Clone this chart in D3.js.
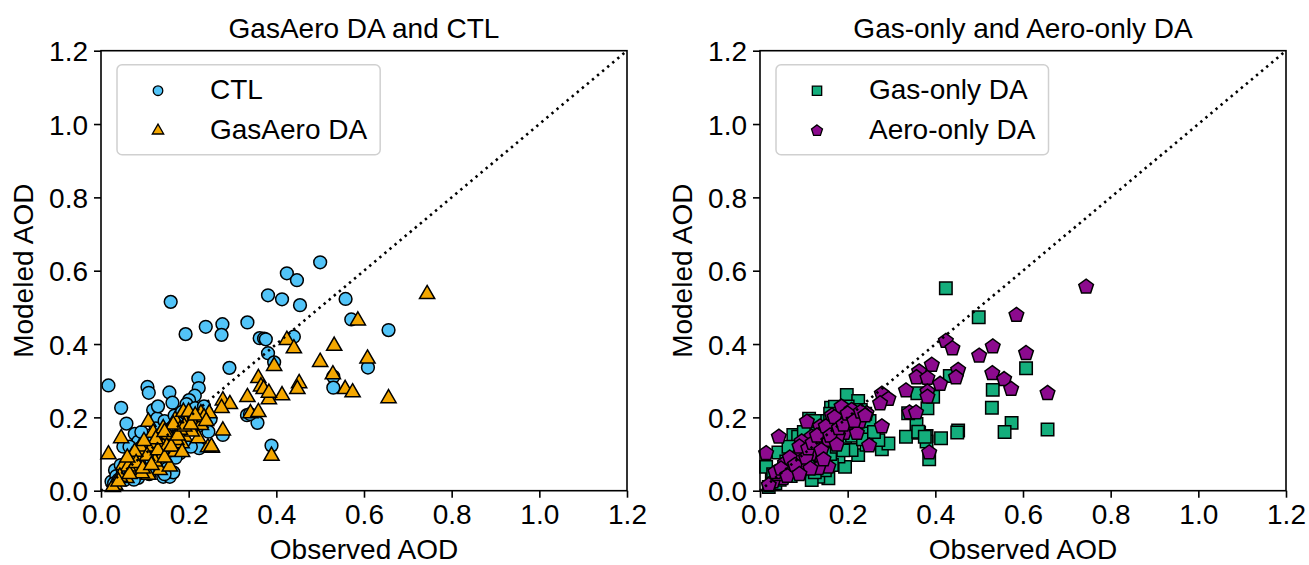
<!DOCTYPE html>
<html>
<head>
<meta charset="utf-8">
<script src="https://cdn.jsdelivr.net/npm/d3@7"></script>
<style>
  body { margin: 0; background: #fff; }
  text { font-family: "Liberation Sans", Arial, sans-serif; fill: #000; }
</style>
</head>
<body>
<div id="chart"></div>
<script>

// tick labels shared by both panels
var ticks = [0, 0.2, 0.4, 0.6, 0.8, 1.0, 1.2];

// [observed, modeled] pairs
var ctl = [
  [0.500,0.623],[0.424,0.593],[0.447,0.574],[0.381,0.533],[0.413,0.522],[0.454,0.506],[0.558,0.523],
  [0.193,0.427],[0.239,0.447],[0.277,0.454],[0.275,0.425],[0.334,0.459],[0.362,0.416],[0.372,0.415],
  [0.376,0.413],[0.440,0.420],[0.571,0.467],[0.656,0.438],[0.381,0.375],[0.395,0.350],[0.293,0.335],
  [0.222,0.306],[0.223,0.280],[0.214,0.259],[0.530,0.311],[0.530,0.281],[0.609,0.336],[0.389,0.123],
  [0.357,0.185],[0.333,0.206],[0.278,0.152],[0.159,0.515],[0.017,0.287],[0.046,0.226],[0.106,0.283],
  [0.109,0.267],[0.058,0.183],[0.077,0.155],[0.156,0.268],[0.163,0.240],[0.119,0.220],[0.128,0.197],
  [0.201,0.247],[0.195,0.236],[0.099,0.138],[0.051,0.120],[0.032,0.056],[0.024,0.025],[0.142,0.038],
  [0.157,0.038],[0.180,0.102],[0.245,0.161],[0.224,0.116],[0.340,0.209],[0.085,0.134],
  [0.035,0.040],[0.045,0.070],[0.060,0.045],[0.068,0.095],[0.080,0.065],[0.088,0.115],[0.095,0.080],
  [0.105,0.150],[0.112,0.105],[0.125,0.170],[0.135,0.125],[0.145,0.190],[0.150,0.145],[0.168,0.205],
  [0.175,0.160],[0.185,0.215],[0.205,0.185],[0.215,0.225],[0.230,0.200],[0.240,0.215],[0.250,0.195],
  [0.120,0.060],[0.085,0.035],[0.055,0.030],[0.138,0.075],[0.170,0.090],[0.100,0.110],[0.130,0.230],
  [0.092,0.160],[0.065,0.120],[0.205,0.120],[0.190,0.135],[0.160,0.110],[0.110,0.045],[0.075,0.030],
  [0.030,0.020],[0.040,0.030],[0.050,0.050],[0.070,0.060],[0.090,0.070],[0.100,0.090],[0.115,0.130],
  [0.130,0.140],[0.140,0.100],[0.155,0.130],[0.160,0.170],[0.175,0.185],[0.180,0.140],[0.195,0.170],
  [0.210,0.200],[0.220,0.175],[0.235,0.230],[0.150,0.060],[0.125,0.085],[0.165,0.050],[0.145,0.045]
];

var gasAero = [
  [0.744,0.536],[0.586,0.464],[0.424,0.411],[0.440,0.388],[0.532,0.395],[0.500,0.351],[0.608,0.360],
  [0.395,0.340],[0.359,0.307],[0.365,0.284],[0.371,0.277],[0.452,0.293],[0.448,0.277],[0.529,0.317],
  [0.557,0.277],[0.574,0.268],[0.656,0.252],[0.413,0.260],[0.383,0.249],[0.383,0.267],[0.334,0.255],
  [0.278,0.246],[0.294,0.236],[0.275,0.225],[0.341,0.211],[0.359,0.214],[0.389,0.095],[0.278,0.164],
  [0.253,0.117],[0.244,0.118],[0.247,0.211],[0.227,0.185],[0.017,0.099],[0.046,0.143],[0.108,0.188],
  [0.119,0.158],[0.142,0.170],[0.169,0.193],[0.188,0.215],[0.207,0.197],[0.228,0.211],[0.214,0.179],
  [0.228,0.179],[0.161,0.138],[0.191,0.147],[0.222,0.143],[0.252,0.120],[0.074,0.056],[0.058,0.034],
  [0.032,0.016],[0.085,0.088],[0.100,0.111],[0.134,0.056],[0.157,0.066],[0.138,0.093],[0.169,0.106],
  [0.123,0.079],[0.070,0.093],[0.051,0.070],[0.108,0.043],[0.138,0.129],[0.184,0.129],[0.207,0.161],
  [0.195,0.188],[0.180,0.166],[0.153,0.152],[0.172,0.138],[0.117,0.120],[0.089,0.120],[0.077,0.106],
  [0.062,0.066],[0.093,0.047],[0.043,0.038],[0.027,0.010],[0.200,0.215],[0.235,0.200],[0.150,0.120],
  [0.040,0.025],[0.065,0.045],[0.080,0.075],[0.095,0.060],[0.105,0.095],[0.115,0.070],[0.130,0.110],
  [0.145,0.090],[0.160,0.120],[0.175,0.150],[0.190,0.175],[0.205,0.180],[0.215,0.205],[0.240,0.190],
  [0.125,0.140],[0.165,0.180],[0.098,0.135],[0.145,0.160],[0.185,0.105],[0.060,0.090]
];

var gasOnly = [
  [0.424,0.552],[0.499,0.473],[0.607,0.334],[0.531,0.275],[0.529,0.226],[0.574,0.185],[0.558,0.160],
  [0.656,0.167],[0.433,0.313],[0.452,0.164],[0.450,0.159],[0.413,0.143],[0.382,0.225],[0.359,0.266],
  [0.395,0.256],[0.333,0.147],[0.363,0.158],[0.380,0.149],[0.380,0.134],[0.357,0.182],[0.338,0.211],
  [0.198,0.261],[0.112,0.196],[0.076,0.152],[0.042,0.104],[0.014,0.065],[0.386,0.086],[0.278,0.113],
  [0.293,0.129],[0.224,0.097],[0.194,0.065],[0.156,0.034],[0.361,0.161],[0.376,0.147],
  [0.224,0.245],[0.162,0.226],[0.186,0.202],[0.209,0.211],[0.247,0.170],[0.270,0.138],[0.243,0.125],
  [0.133,0.038],[0.179,0.093],[0.156,0.111],[0.118,0.175],[0.087,0.147],[0.027,0.029],[0.065,0.047],
  [0.118,0.029],[0.148,0.056],[0.137,0.075],[0.171,0.229],[0.179,0.175],[0.217,0.166],[0.194,0.138],
  [0.103,0.093],[0.080,0.065],[0.049,0.047],[0.164,0.070],[0.209,0.111],[0.100,0.120],[0.130,0.100],
  [0.060,0.080],[0.035,0.020],[0.220,0.200],
  [0.020,0.010],[0.030,0.045],[0.045,0.030],[0.055,0.060],[0.070,0.040],[0.075,0.085],[0.090,0.055],
  [0.095,0.100],[0.110,0.070],[0.115,0.130],[0.125,0.050],[0.140,0.090],[0.150,0.140],[0.160,0.100],
  [0.170,0.160],[0.175,0.120],[0.185,0.200],[0.190,0.110],[0.200,0.180],[0.210,0.150],[0.230,0.220],
  [0.235,0.140],[0.250,0.190],[0.260,0.160],[0.120,0.160],[0.140,0.190],[0.100,0.160],[0.160,0.210],
  [0.200,0.230],[0.240,0.210],[0.065,0.120],[0.125,0.190]
];

var aeroOnly = [
  [0.744,0.556],[0.585,0.479],[0.607,0.375],[0.656,0.266],[0.531,0.393],[0.500,0.368],[0.530,0.320],
  [0.557,0.304],[0.573,0.277],[0.424,0.408],[0.439,0.388],[0.452,0.329],[0.447,0.309],[0.392,0.343],
  [0.363,0.325],[0.357,0.309],[0.382,0.307],[0.411,0.291],[0.333,0.273],[0.382,0.270],[0.382,0.256],
  [0.341,0.213],[0.356,0.213],[0.278,0.264],[0.293,0.250],[0.274,0.238],[0.278,0.175],[0.243,0.211],
  [0.043,0.147],[0.014,0.102],[0.107,0.188],[0.386,0.104],[0.249,0.123],
  [0.164,0.205],[0.194,0.202],[0.217,0.209],[0.227,0.188],[0.192,0.157],[0.156,0.138],[0.125,0.125],
  [0.099,0.111],[0.133,0.097],[0.156,0.065],[0.099,0.075],[0.076,0.084],[0.072,0.056],[0.053,0.034],
  [0.030,0.025],[0.133,0.061],[0.221,0.157],[0.137,0.175],[0.167,0.179],[0.186,0.229],[0.209,0.220],
  [0.118,0.147],[0.095,0.134],[0.057,0.075],[0.178,0.150],[0.145,0.160],[0.040,0.045],[0.200,0.185],
  [0.115,0.100],[0.085,0.095],
  [0.020,0.015],[0.035,0.050],[0.048,0.060],[0.062,0.040],[0.068,0.090],[0.080,0.070],[0.090,0.120],
  [0.105,0.090],[0.110,0.115],[0.120,0.130],[0.130,0.150],[0.140,0.110],[0.150,0.175],[0.160,0.150],
  [0.170,0.200],[0.180,0.170],[0.190,0.180],[0.200,0.210],[0.215,0.190],[0.230,0.215],[0.240,0.205],
  [0.175,0.125],[0.145,0.085],[0.115,0.060],[0.090,0.045]
];

var W = 1309, H = 565;
var fs = 28;

var svg = d3.select('#chart').append('svg')
  .attr('width', W).attr('height', H);

// pentagon marker, point up
function pentagon(r) {
  var p = [];
  for (var i = 0; i < 5; i++) {
    var a = -Math.PI / 2 + i * 2 * Math.PI / 5;
    p.push([r * Math.cos(a), r * Math.sin(a)]);
  }
  return 'M' + p.map(function(d){ return d.join(','); }).join('L') + 'Z';
}

var shapes = {
  circle:   function(k){ return d3.symbol(d3.symbolCircle, 128 * k * k)(); },
  triangle: function(k){ return d3.symbol(d3.symbolTriangle, 100 * k * k)(); },
  square:   function(k){ return d3.symbol(d3.symbolSquare, 155 * k * k)(); },
  pentagon: function(k){ return pentagon(7.7 * k); }
};

function panel(left, title, series) {
  var top = 50.7, width = 526, height = 440;

  var x = d3.scaleLinear().domain([0, 1.2]).range([0, width]);
  var y = d3.scaleLinear().domain([0, 1.2]).range([height, 0]);

  var g = svg.append('g').attr('transform', 'translate(' + left + ',' + top + ')');

  // markers
  series.forEach(function(s) {
    g.append('g').selectAll('path')
      .data(s.data)
      .enter().append('path')
        .attr('d', shapes[s.shape](1))
        .attr('transform', function(d){ return 'translate(' + x(d[0]) + ',' + y(d[1]) + ')'; })
        .attr('fill', s.color)
        .attr('stroke', '#000')
        .attr('stroke-width', 1.5);
  });

  // 1:1 line
  g.append('line')
    .attr('x1', x(0)).attr('y1', y(0))
    .attr('x2', x(1.2)).attr('y2', y(1.2))
    .attr('stroke', '#000')
    .attr('stroke-width', 2.6)
    .attr('stroke-dasharray', '2.4,4.2');

  // axes
  var xa = g.append('g')
    .attr('transform', 'translate(0,' + height + ')')
    .call(d3.axisBottom(x).tickValues(ticks).tickFormat(d3.format('.1f'))
      .tickSize(7).tickSizeOuter(0).tickPadding(6));
  var ya = g.append('g')
    .call(d3.axisLeft(y).tickValues(ticks).tickFormat(d3.format('.1f'))
      .tickSize(7).tickSizeOuter(0).tickPadding(6));
  [xa, ya].forEach(function(a) {
    a.selectAll('.domain').remove();
    a.selectAll('line').attr('stroke-width', 1.6);
    a.selectAll('text').style('font-size', fs + 'px')
      .style('font-family', '"Liberation Sans", Arial, sans-serif');
  });
  ya.selectAll('text').attr('dy', '0.36em');
  xa.selectAll('text').attr('dy', '0.72em');

  // frame
  g.append('rect')
    .attr('width', width).attr('height', height)
    .attr('fill', 'none').attr('stroke', '#000').attr('stroke-width', 1.6);

  // titles
  g.append('text')
    .attr('x', width / 2).attr('y', -13)
    .attr('text-anchor', 'middle')
    .style('font-size', fs + 'px')
    .text(title);
  g.append('text')
    .attr('x', width / 2).attr('y', height + 68)
    .attr('text-anchor', 'middle')
    .style('font-size', fs + 'px')
    .text('Observed AOD');
  g.append('text')
    .attr('text-anchor', 'middle')
    .attr('transform', 'translate(' + (-68) + ',' + (height / 2) + ')rotate(-90)')
    .style('font-size', fs + 'px')
    .text('Modeled AOD');

  // legend
  var lg = g.append('g').attr('transform', 'translate(16,14)');
  var box = lg.append('rect')
    .attr('rx', 5).attr('ry', 5)
    .attr('fill', '#fff').attr('fill-opacity', 0.8)
    .attr('stroke', '#d0d0d0').attr('stroke-width', 1.5)
    .attr('height', 90);
  var maxw = 0;
  series.forEach(function(s, i) {
    lg.append('path')
      .attr('d', shapes[s.shape](0.75))
      .attr('transform', 'translate(41,' + (26 + i * 40) + ')')
      .attr('fill', s.color).attr('stroke', '#000').attr('stroke-width', 1.3);
    var t = lg.append('text')
      .attr('x', 93).attr('y', 34 + i * 40)
      .style('font-size', fs + 'px')
      .text(s.name);
    maxw = Math.max(maxw, t.node().getComputedTextLength());
  });
  box.attr('width', 93 + maxw + 13);
}

panel(101, 'GasAero DA and CTL', [
  {name: 'CTL', data: ctl, shape: 'circle', color: '#52c4f8'},
  {name: 'GasAero DA', data: gasAero, shape: 'triangle', color: '#f4a700'}
]);

panel(760, 'Gas-only and Aero-only DA', [
  {name: 'Gas-only DA', data: gasOnly, shape: 'square', color: '#14ae7c'},
  {name: 'Aero-only DA', data: aeroOnly, shape: 'pentagon', color: '#8c0a8e'}
]);

</script>
</body>
</html>
